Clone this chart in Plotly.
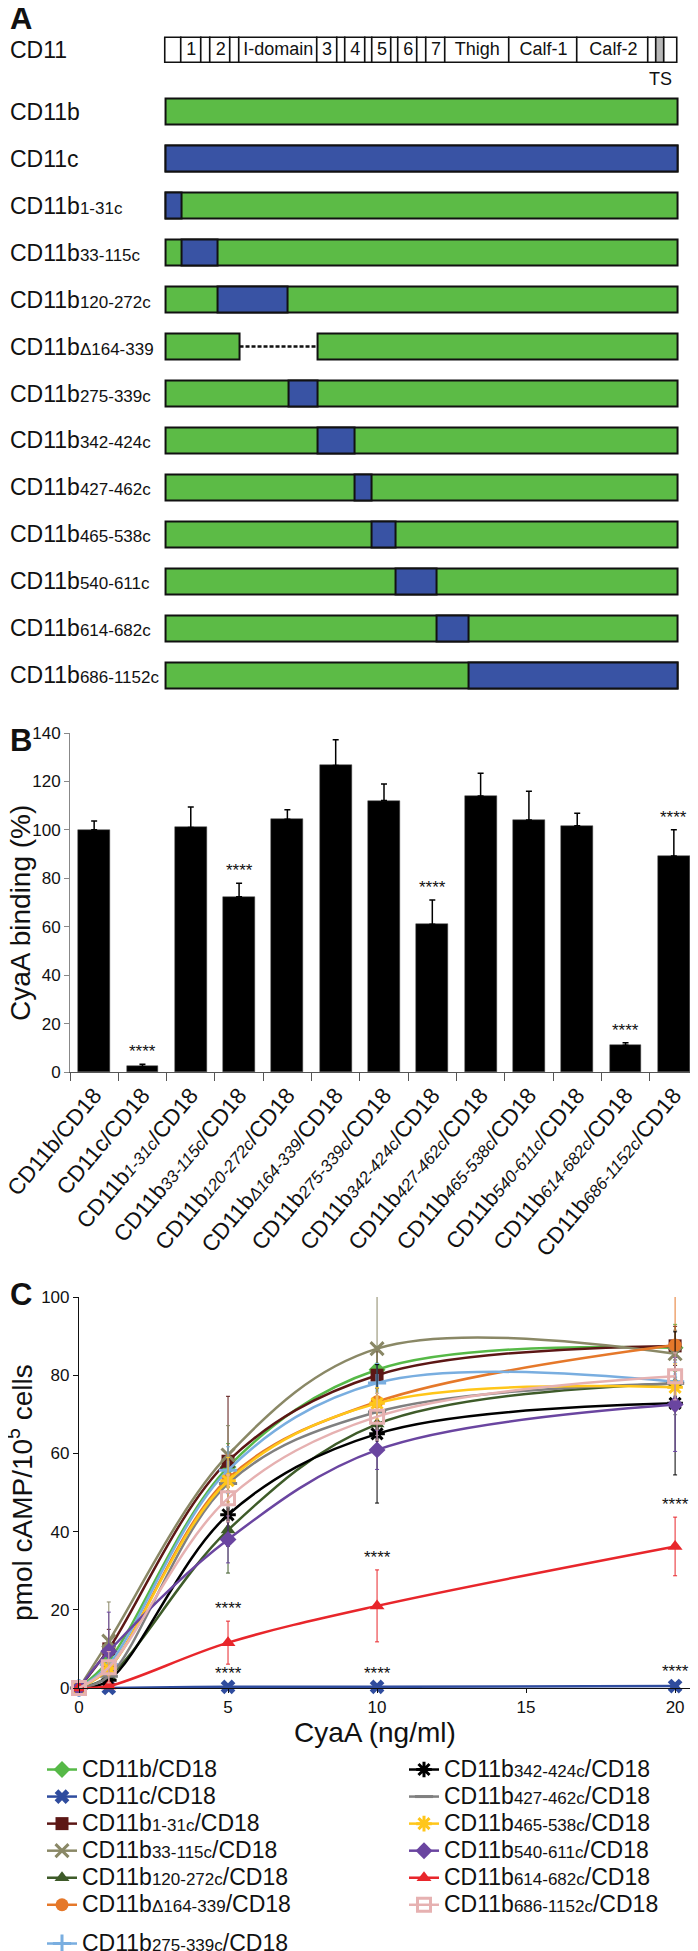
import plotly.graph_objects as go

FONT = "Liberation Sans, Arial, sans-serif"
PAGE_W, PAGE_H = 698, 1951
OFF = 8  # the html body margin that offsets the figure inside the page
W, H = PAGE_W - OFF, PAGE_H - OFF

def px_x(p):
    return (p - OFF) / W

def px_y(p):
    return 1 - (p - OFF) / H

# ---------------- Panel A data ----------------
dom_edges = [0, 34, 79, 101, 145, 165, 339, 384, 403, 447, 463, 507, 522, 565, 585, 627, 770, 924, 1084, 1100, 1119, 1149]
dom_labels = ["", "1", "", "2", "", "I-domain", "3", "", "4", "", "5", "", "6", "", "7", "Thigh", "Calf-1", "Calf-2", "", "TS", ""]
full_len = 1149

construct_names = ["CD11b", "CD11c", "CD11b1-31c", "CD11b33-115c", "CD11b120-272c", "CD11bΔ164-339",
                   "CD11b275-339c", "CD11b342-424c", "CD11b427-462c", "CD11b465-538c",
                   "CD11b540-611c", "CD11b614-682c", "CD11b686-1152c"]
construct_subs = ["", "", "1-31c", "33-115c", "120-272c", "Δ164-339", "275-339c", "342-424c",
                  "427-462c", "465-538c", "540-611c", "614-682c", "686-1152c"]
swap_start = [None, 0, 0, 34, 116, None, 276, 341, 424, 462, 514, 607, 679]
swap_end = [None, 1149, 34, 116, 272, None, 339, 423, 461, 514, 607, 679, 1149]
del_start = [None, None, None, None, None, 165, None, None, None, None, None, None, None]
del_end = [None, None, None, None, None, 340, None, None, None, None, None, None, None]

GREEN = "#5cbb46"
BLUE = "#3953a4"

# ---------------- Panel B data ----------------
binding = [100, 2.3, 101, 72.4, 104.4, 126.6, 112.1, 61, 114, 104.1, 101.7, 11, 89.2]
binding_err = [3.7, 0.9, 8.4, 5.5, 3.9, 10.6, 6.8, 10, 9.4, 11.8, 5.2, 1.1, 10.8]
binding_sig = ["", "****", "", "****", "", "", "", "****", "", "", "", "****", "****"]

# ---------------- Panel C data ----------------
doses = [0, 1, 5, 10, 20]
series_subs = ["", "c", "1-31c", "33-115c", "120-272c", "Δ164-339", "275-339c", "342-424c",
               "427-462c", "465-538c", "540-611c", "614-682c", "686-1152c"]
camp_vals = [
    [0, 7, 56.5, 81.4, 87],
    [0, 0, 0.3, 0.3, 0.5],
    [0, 10, 58, 80, 87.5],
    [0, 12, 59.6, 86.8, 85.5],
    [0, 3, 40.4, 67.5, 77.9],
    [0, 5, 53.6, 73.2, 87.7],
    [0, 6, 55.7, 78, 78.3],
    [0, 2, 44.3, 65, 72.8],
    [0, 3, 52.3, 70.6, 77.9],
    [0, 5, 53, 72.8, 76.9],
    [0, 9.4, 38, 60.9, 72.5],
    [0, 0.5, 11.6, 21, 36.2],
    [0, 5.3, 48.5, 69.4, 79.7],
]
camp_err = [
    [0, 4, 6, 6, 6],
    [0, 0, 0.3, 0.3, 0.5],
    [0, 5, 16.6, 6, 5],
    [0, 10, 7.5, 13.5, 6],
    [0, 4, 11, 7, 6],
    [0, 4, 6, 5, 15],
    [0, 4, 6, 5, 5],
    [0, 3, 8, 17.7, 18.3],
    [0, 3, 6, 6, 8],
    [0, 4, 6, 4, 6],
    [0, 10, 6, 5, 12],
    [0, 0.5, 5.5, 9.2, 7.5],
    [0, 4, 6, 6, 6],
]
camp_sig = [
    ["", "", "", "", ""],
    ["", "", "****", "****", "****"],
    ["", "", "", "", ""],
    ["", "", "", "", ""],
    ["", "", "", "", ""],
    ["", "", "", "", ""],
    ["", "", "", "", ""],
    ["", "", "", "", ""],
    ["", "", "", "", ""],
    ["", "", "", "", ""],
    ["", "", "", "", ""],
    ["", "", "****", "****", "****"],
    ["", "", "", "", ""],
]
camp_colors = ["#56b947", "#2f4c9e", "#5c1715", "#8a8866", "#3e5b29", "#e5782a", "#79aee0",
               "#000000", "#808080", "#ffc61a", "#6a45a0", "#e8262b", "#e6b1b1"]
camp_symbols = ["diamond", "x", "square", "x-thin", "triangle-up", "circle", "cross-thin",
                "asterisk", "line-ew", "asterisk", "diamond", "triangle-up", "square-open"]
camp_linew = [0, 0, 0, 3, 0, 0, 3, 3, 3, 3, 0, 0, 3]
legend_of = ["legend"] * 6 + ["legend3"] + ["legend2"] * 6

SUB = 17
BIG = 23


def label_html(sub, italic=False, main="CD11b", suffix="", big=None):
    def wrap(t):
        return f"<span style='font-size:{big}px'>{t}</span>" if big else t
    if not sub:
        return wrap(main + suffix)
    inner = f"<i>{sub}</i>" if italic else sub
    out = wrap(main) + f"<span style='font-size:{SUB}px'>{inner}</span>"
    if suffix:
        out += wrap(suffix)
    return out


fig = go.Figure()

# ---- Panel A: domain map ----
for i in range(len(dom_labels)):
    s, e = dom_edges[i], dom_edges[i + 1]
    fig.add_trace(go.Bar(
        x=[e - s], base=[s], y=[0], orientation="h", width=1,
        marker=dict(color="#b8b8b8" if dom_labels[i] == "TS" else "white",
                    line=dict(color="#111", width=1.6)),
        xaxis="x", yaxis="y", showlegend=False, hoverinfo="skip"))
mids = [(dom_edges[i] + dom_edges[i + 1]) / 2 for i in range(len(dom_labels))]
inside = [(m, l) for m, l in zip(mids, dom_labels) if l and l != "TS"]
fig.add_trace(go.Scatter(
    x=[m for m, _ in inside], y=[0] * len(inside), text=[l for _, l in inside],
    mode="text", textfont=dict(size=18, color="#111", family=FONT),
    xaxis="x", yaxis="y", showlegend=False, cliponaxis=False, hoverinfo="skip"))
ts_idx = dom_labels.index("TS")
fig.add_annotation(x=mids[ts_idx], y=0, xref="x", yref="y", text="TS", showarrow=False,
                   yshift=-29, font=dict(size=18, color="#111", family=FONT))
fig.add_annotation(x=0, y=0, xref="paper", yref="y", text="CD11", showarrow=False,
                   xanchor="left", font=dict(size=23, color="#111", family=FONT))

# ---- Panel A: constructs ----
for i, name in enumerate(construct_names):
    if del_start[i] is not None:
        for s, e in [(0, del_start[i]), (del_end[i], full_len)]:
            fig.add_trace(go.Bar(x=[e - s], base=[s], y=[name], orientation="h", width=0.555,
                                 marker=dict(color=GREEN, line=dict(color="#111", width=2)),
                                 xaxis="x2", yaxis="y2", showlegend=False, hoverinfo="skip"))
        fig.add_trace(go.Scatter(x=[del_start[i], del_end[i]], y=[name, name], mode="lines",
                                 line=dict(color="#111", width=2.5, dash="4px,2px"),
                                 xaxis="x2", yaxis="y2", showlegend=False, hoverinfo="skip"))
    else:
        fig.add_trace(go.Bar(x=[full_len], base=[0], y=[name], orientation="h", width=0.555,
                             marker=dict(color=GREEN, line=dict(color="#111", width=2)),
                             xaxis="x2", yaxis="y2", showlegend=False, hoverinfo="skip"))
        if swap_start[i] is not None:
            fig.add_trace(go.Bar(x=[swap_end[i] - swap_start[i]], base=[swap_start[i]], y=[name],
                                 orientation="h", width=0.555,
                                 marker=dict(color=BLUE, line=dict(color="#111", width=2)),
                                 xaxis="x2", yaxis="y2", showlegend=False, hoverinfo="skip"))
    main = "CD11c" if name == "CD11c" else "CD11b"
    fig.add_annotation(x=0, y=name, xref="paper", yref="y2",
                       text=label_html(construct_subs[i], main=main), showarrow=False,
                       xanchor="left", font=dict(size=23, color="#111", family=FONT))

# ---- Panel B ----
b_cats = []
for i, name in enumerate(construct_names):
    main = "CD11c" if name == "CD11c" else "CD11b"
    b_cats.append(label_html(construct_subs[i], italic=True, main=main, suffix="/CD18"))
fig.add_trace(go.Bar(
    x=b_cats, y=binding, width=0.66,
    marker=dict(color="black", line=dict(color="#444", width=0.5)),
    error_y=dict(type="data", array=binding_err, arrayminus=[0] * len(binding_err),
                 symmetric=False, color="black", thickness=1.5, width=3),
    xaxis="x3", yaxis="y3", showlegend=False, hoverinfo="skip"))
for c, v, e, s in zip(b_cats, binding, binding_err, binding_sig):
    if s:
        fig.add_annotation(x=c, y=v + e, xref="x3", yref="y3", text=s, showarrow=False,
                           yanchor="bottom", yshift=1, font=dict(size=17, color="#111", family=FONT))

# ---- Panel C ----
for i in range(len(camp_vals)):
    c = camp_colors[i]
    name = label_html(series_subs[i] if series_subs[i] != "c" else "",
                      main="CD11c" if series_subs[i] == "c" else "CD11b", suffix="/CD18", big=BIG)
    fig.add_trace(go.Scatter(
        x=doses, y=camp_vals[i], mode="lines+markers", name=name,
        line=dict(color=c, width=2.5, shape="spline", smoothing=1.0),
        marker=dict(symbol=camp_symbols[i], size=13, color=c,
                    line=dict(color=c, width=camp_linew[i])),
        error_y=dict(type="data", array=camp_err[i], color=c, thickness=1, width=2),
        xaxis="x4", yaxis="y4", cliponaxis=False, legend=legend_of[i]))
for i in range(len(camp_vals)):
    for x, v, e, s in zip(doses, camp_vals[i], camp_err[i], camp_sig[i]):
        if s:
            fig.add_annotation(x=x, y=v + e, xref="x4", yref="y4", text=s, showarrow=False,
                               yanchor="bottom", yshift=1, font=dict(size=17, color="#111", family=FONT))

# ---- panel letters and titles ----
for letter, yp in [("A", 18), ("B", 740), ("C", 1294)]:
    fig.add_annotation(x=0, y=px_y(yp), xref="paper", yref="paper", text=f"<b>{letter}</b>",
                       showarrow=False, xanchor="left", yanchor="middle",
                       font=dict(size=31, color="#111", family=FONT))
fig.add_annotation(x=px_x(20), y=px_y(913), xref="paper", yref="paper", text="CyaA binding (%)",
                   textangle=-90, showarrow=False, xanchor="center", yanchor="middle",
                   font=dict(size=28, color="#111", family=FONT))
fig.add_annotation(x=px_x(20), y=px_y(1493), xref="paper", yref="paper",
                   text="pmol cAMP/10<sup>5</sup> cells", textangle=-90, showarrow=False,
                   xanchor="center", yanchor="middle",
                   font=dict(size=28, color="#111", family=FONT))
fig.add_annotation(x=px_x(375), y=px_y(1732), xref="paper", yref="paper", text="CyaA (ng/ml)",
                   showarrow=False, xanchor="center", yanchor="middle",
                   font=dict(size=28, color="#111", family=FONT))

# x range padded slightly so bar outlines at the ends are not clipped
xpad = 10
upx = (678 - 166) / full_len
xa_dom = [px_x(166 - xpad * upx), px_x(678 + xpad * upx)]

leg_common = dict(xanchor="left", yanchor="top", bgcolor="rgba(0,0,0,0)",
                  font=dict(size=18.5, color="#111", family=FONT), tracegroupgap=0, itemwidth=30)

ax_hidden = dict(visible=False, showgrid=False, zeroline=False)
fig.update_layout(
    width=W, height=H, margin=dict(l=0, r=0, t=0, b=0, autoexpand=False),
    paper_bgcolor="white", plot_bgcolor="rgba(0,0,0,0)",
    font=dict(family=FONT, color="#111"),
    barmode="overlay", bargap=0,
    xaxis=dict(domain=xa_dom, range=[-xpad, full_len + xpad], anchor="y", **ax_hidden),
    yaxis=dict(domain=[px_y(66), px_y(35)], range=[-0.62, 0.62], anchor="x", **ax_hidden),
    xaxis2=dict(domain=xa_dom, range=[-xpad, full_len + xpad], anchor="y2", **ax_hidden),
    yaxis2=dict(domain=[px_y(698.5), px_y(88.5)], type="category", categoryorder="array",
                categoryarray=construct_names, range=[12.5, -0.5], anchor="x2", **ax_hidden),
    xaxis3=dict(domain=[px_x(70), 1.0], type="category", anchor="y3", tickson="boundaries",
                ticks="outside", ticklen=8, tickcolor="#555", showline=True, linecolor="#555",
                linewidth=1.2, tickangle=-50, tickfont=dict(size=22.5, color="#111", family=FONT),
                showgrid=False, range=[-0.5, 12.5], automargin=False),
    yaxis3=dict(domain=[px_y(1072), px_y(733)], range=[0, 140], dtick=20, anchor="x3",
                ticks="outside", ticklen=5, tickcolor="#888", showline=True, linecolor="#888",
                linewidth=1, showgrid=False, zeroline=False, automargin=False,
                tickfont=dict(size=17, color="#111", family=FONT)),
    xaxis4=dict(domain=[px_x(79), px_x(690)], range=[0, 20.5], anchor="y4",
                tickvals=[0, 5, 10, 15, 20], ticks="outside", ticklen=4, tickcolor="#111",
                showline=True, linecolor="#111", linewidth=1, showgrid=False, zeroline=False,
                automargin=False, tickfont=dict(size=17, color="#111", family=FONT)),
    yaxis4=dict(domain=[px_y(1688), px_y(1297)], range=[0, 100], dtick=20, anchor="x4",
                ticks="outside", ticklen=5, tickcolor="#111", showline=True, linecolor="#111",
                linewidth=1.2, showgrid=False, zeroline=False, automargin=False,
                tickfont=dict(size=17, color="#111", family=FONT)),
    legend=dict(x=px_x(42), y=px_y(1751), **leg_common),
    legend3=dict(x=px_x(42), y=px_y(1925), **leg_common),
    legend2=dict(x=px_x(404), y=px_y(1751), **leg_common),
)

fig.write_html("out.html")
